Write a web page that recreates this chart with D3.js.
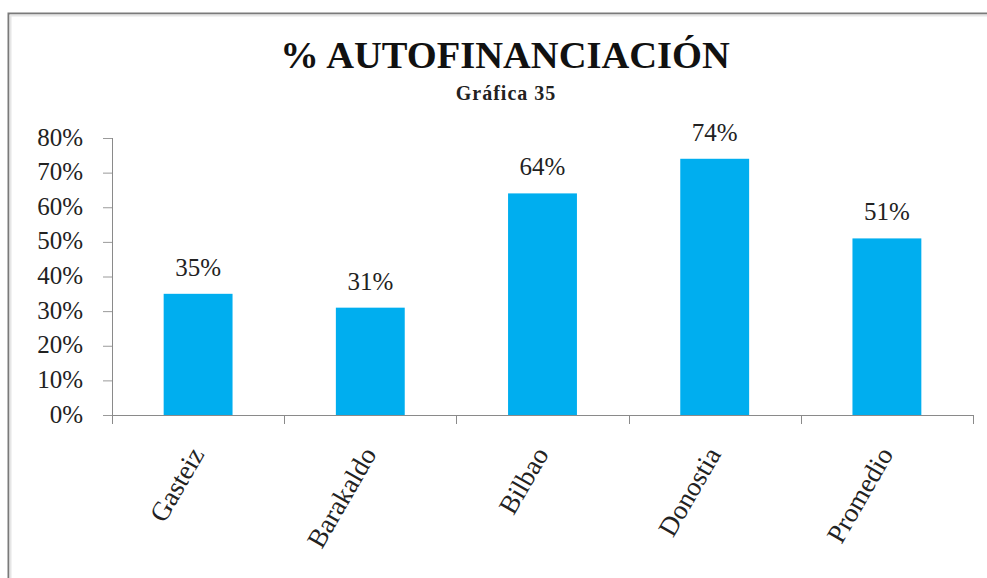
<!DOCTYPE html>
<html>
<head>
<meta charset="utf-8">
<script src="https://cdn.jsdelivr.net/npm/d3@7"></script>
<style>
  html, body { margin: 0; padding: 0; background: #fff; }
  svg { display: block; }
</style>
</head>
<body>
<svg id="chart" width="987" height="578"></svg>
<script>
const categories = ["Gasteiz", "Barakaldo", "Bilbao", "Donostia", "Promedio"];
const values = [0.35, 0.31, 0.64, 0.74, 0.51];
const valueLabels = ["35%", "31%", "64%", "74%", "51%"];
const yTicks = [0, 0.1, 0.2, 0.3, 0.4, 0.5, 0.6, 0.7, 0.8];
const titleText = "% AUTOFINANCIACIÓN";
const subtitleText = "Gráfica 35";

const svg = d3.select("#chart");
const serif = "'Liberation Serif', 'Times New Roman', serif";

// outer frame
svg.append("rect").attr("x", 0).attr("y", 0).attr("width", 987).attr("height", 578).attr("fill", "#fff");
svg.append("path")
  .attr("d", "M8.5,578 L8.5,13.5 L987,13.5")
  .attr("fill", "none").attr("stroke", "#7a7a7a").attr("stroke-width", 2);
svg.append("path")
  .attr("d", "M10.5,578 L10.5,15.5 L987,15.5")
  .attr("fill", "none").attr("stroke", "#e6e6e6").attr("stroke-width", 2);

const x = d3.scaleBand().domain(categories).range([112, 973]).paddingInner(0.6).paddingOuter(0.3);
const y = d3.scaleLinear().domain([0, 0.8]).range([415, 138]);

// title
svg.append("text").attr("x", 505).attr("y", 68).attr("text-anchor", "middle")
  .attr("font-family", serif).attr("font-weight", "bold").attr("font-size", 38.5)
  .attr("fill", "#111").text(titleText);
svg.append("text").attr("x", 506).attr("y", 100).attr("text-anchor", "middle")
  .attr("font-family", serif).attr("font-weight", "bold").attr("font-size", 20)
  .attr("letter-spacing", 1)
  .attr("fill", "#222").text(subtitleText);

// bars
svg.append("g").selectAll("rect").data(values).join("rect")
  .attr("x", (d, i) => x(categories[i]))
  .attr("width", x.bandwidth())
  .attr("y", d => y(d))
  .attr("height", d => y(0) - y(d))
  .attr("fill", "#00AEEF");

// value labels
svg.append("g").selectAll("text").data(values).join("text")
  .attr("x", (d, i) => x(categories[i]) + x.bandwidth() / 2)
  .attr("y", d => y(d) - 18)
  .attr("text-anchor", "middle")
  .attr("font-family", serif).attr("font-size", 25).attr("fill", "#222")
  .text((d, i) => valueLabels[i]);

// y axis
const yAxis = d3.axisLeft(y).tickValues(yTicks).tickFormat(d3.format(".0%")).tickSize(9).tickPadding(20);
const gy = svg.append("g").attr("transform", "translate(112,0)").call(yAxis);
gy.select(".domain").attr("stroke", "#8a8a8a").attr("d", "M0.5," + y(0.8) + "V" + y(0));
gy.selectAll(".tick line").attr("stroke", "#9a9a9a");
gy.selectAll(".tick text").attr("font-family", serif).attr("font-size", 25).attr("fill", "#222").attr("dy", "0.28em");

// x axis line and boundary ticks
const x0 = x.range()[0], x1 = x.range()[1];
svg.append("line").attr("x1", x0).attr("x2", x1).attr("y1", y(0) + 0.5).attr("y2", y(0) + 0.5)
  .attr("stroke", "#8a8a8a");
const bounds = d3.range(categories.length + 1).map(i => x0 + i * x.step());
svg.append("g").selectAll("line").data(bounds).join("line")
  .attr("x1", d => Math.round(d) + 0.5).attr("x2", d => Math.round(d) + 0.5)
  .attr("y1", y(0)).attr("y2", y(0) + 9)
  .attr("stroke", "#8a8a8a");

// x labels
svg.append("g").selectAll("text").data(categories).join("text")
  .attr("transform", d => `translate(${x(d) + x.bandwidth() / 2 + 7},454) rotate(-60)`)
  .attr("text-anchor", "end")
  .attr("font-family", serif).attr("font-size", 27).attr("fill", "#222")
  .text(d => d);
</script>
</body>
</html>
